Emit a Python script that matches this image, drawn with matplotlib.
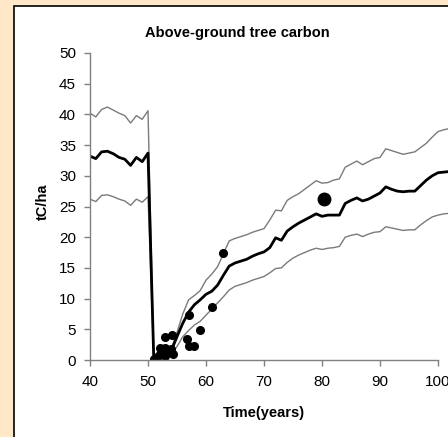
import matplotlib
matplotlib.use("Agg")
import matplotlib.pyplot as plt
from matplotlib.patches import Rectangle

plt.rcParams["font.family"] = ["Liberation Sans", "DejaVu Sans"]

# simulated mean and band (years 40..102)
years = list(range(40, 103))
mean_c = [33.2, 32.8, 33.9, 34.0, 33.6, 33.0, 32.7, 31.7, 33.0, 32.3, 33.7,
          0.0, 0.3, 0.8, 1.5, 3.8, 6.0, 7.8, 9.0, 9.8, 10.7,
          11.2, 12.2, 13.8, 15.3, 15.8, 16.1, 16.4, 16.9, 17.3, 17.6,
          18.3, 19.9, 19.5, 21.0, 21.7, 22.3, 22.8, 23.3, 23.8, 23.4,
          23.6, 23.6, 23.6, 25.5, 26.0, 26.4, 25.9, 26.2, 26.7, 27.2,
          28.2, 27.8, 27.5, 27.4, 27.5, 27.5, 28.4, 29.3, 30.0, 30.5,
          30.6, 30.7]
upper_c = [40.2, 39.6, 40.8, 41.2, 40.7, 40.2, 39.8, 38.6, 39.8, 39.2, 40.6,
           0.0, 0.5, 1.0, 1.8, 4.5, 7.5, 9.8, 10.5, 11.3, 13.0,
           14.0, 15.2, 17.3, 19.4, 19.8, 20.1, 20.4, 20.8, 21.1, 21.4,
           22.8, 24.4, 24.3, 26.0, 26.6, 27.1, 27.8, 28.5, 29.2, 28.8,
           28.9, 29.3, 29.5, 31.4, 31.9, 32.4, 31.8, 32.3, 32.8, 33.0,
           34.4, 34.1, 33.8, 33.5, 33.7, 33.9, 34.6, 35.3, 36.3, 37.2,
           37.5, 37.7]
lower_c = [26.2, 25.8, 26.8, 26.9, 26.6, 26.2, 25.9, 25.2, 26.2, 25.7, 26.6,
           0.0, 0.1, 0.3, 0.8, 2.2, 3.8, 4.8, 5.7, 6.3, 7.3,
           8.3, 9.3, 10.3, 11.4, 12.0, 12.3, 12.6, 13.0, 13.3, 13.6,
           14.2, 14.9, 15.0, 15.9, 16.6, 17.1, 17.5, 17.9, 18.2, 18.0,
           18.2, 18.3, 18.5, 20.0, 20.3, 20.5, 20.1, 20.5, 20.8, 20.9,
           21.7, 21.5, 21.3, 21.1, 21.2, 21.2, 22.0, 22.7, 23.3, 23.6,
           23.8, 23.9]

# observed plots
obs_t = [51, 51.5, 52, 52, 52.4, 52.9, 53, 53, 53.5, 54, 54.3, 52.9, 54.1,
         56.7, 57, 57, 57.9, 59, 61, 62.9]
obs_c = [0.2, 0.5, 1.0, 2.0, 1.5, 0.7, 2.0, 1.2, 1.5, 1.8, 1.0, 3.8, 4.1,
         3.4, 7.3, 2.3, 2.2, 4.9, 8.7, 17.5]
big_t = [80.3]
big_c = [26.3]

W, H = 448, 437
fig = plt.figure(figsize=(W / 100, H / 100), dpi=100)
fig.patch.set_facecolor("#FFE8C8")
fig.patches.append(Rectangle((14 / W, -0.1), 1.0, 0.1 + (H - 6) / H,
                             transform=fig.transFigure, facecolor="white",
                             edgecolor="black", linewidth=1.2, zorder=-5))

ax = fig.add_axes([90 / W, (H - 360) / H, (W - 90) / W, 307 / H])
ax.set_zorder(2)
ax.set_facecolor("none")
ax.plot(years, upper_c, color="#7a7a7a", lw=1.0)
ax.plot(years, lower_c, color="#7a7a7a", lw=1.0)
ax.plot(years, mean_c, color="black", lw=2.0)
ax.plot(obs_t, obs_c, "o", color="black", ms=5.5, ls="none")
ax.plot(big_t, big_c, "o", color="black", ms=9, ls="none")

ax.set_xlim(40, 40 + (W - 90) / 5.8)
ax.set_ylim(0, 50)
ax.set_xticks([40, 50, 60, 70, 80, 90, 100])
ax.set_yticks(range(0, 51, 5))
for s in ["top", "right"]:
    ax.spines[s].set_visible(False)
ax.spines["bottom"].set_bounds(40, 100)
for s in ["left", "bottom"]:
    ax.spines[s].set_color("#808080")
    ax.spines[s].set_linewidth(1.0)
ax.tick_params(direction="out", length=4, width=1, color="#808080",
               labelsize=11)
ax.tick_params(axis="x", pad=7)
ax.tick_params(axis="y", pad=6)

fig.text(237 / W, 1 - 36.7 / H, "Above-ground tree carbon", ha="center",
         va="baseline", fontsize=10.5, fontweight="bold")
fig.text(264 / W, 1 - 417.3 / H, "Time(years)", ha="center", va="baseline",
         fontsize=10.5, fontweight="bold")
fig.text(43 / W, 1 - 202 / H, "tC/ha", ha="center", va="center",
         rotation=90, fontsize=10.5, fontweight="bold")

fig.savefig("out.png", dpi=100, facecolor=fig.get_facecolor())
